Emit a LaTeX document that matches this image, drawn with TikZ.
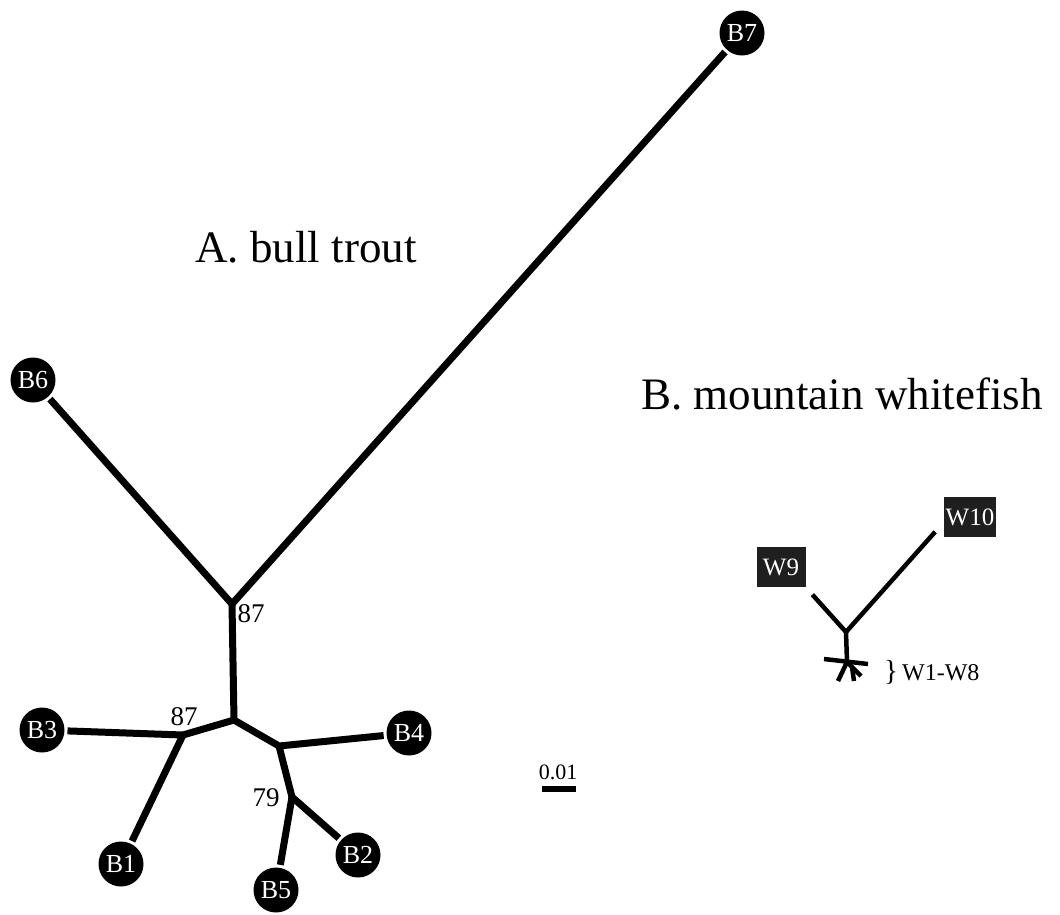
\documentclass[tikz,border=0pt]{standalone}
\usepackage{fontspec}
\setmainfont{Liberation Serif}
\usetikzlibrary{calc}

\begin{document}
\begin{tikzpicture}[x=1pt,y=-1pt,
  leaf/.style={circle,fill=black,text=white,minimum size=45pt,inner sep=0pt,
    outer sep=3pt,font=\fontsize{26}{26}\selectfont},
  wbox/.style={rectangle,fill=black!88,text=white,inner sep=0pt,
    minimum height=40pt,font=\fontsize{25}{25}\selectfont},
  branch/.style={line width=7pt,line cap=butt,line join=round},
  wfbranch/.style={line width=4.5pt,line cap=butt,line join=round},
  support/.style={font=\fontsize{27}{27}\selectfont,inner sep=0pt},
  title/.style={font=\fontsize{45}{45}\selectfont,inner sep=0pt}]

\useasboundingbox (0,0) rectangle (1060,914);

% ---- A. bull trout ----
\node[title,anchor=base] (tA) at (306,262) {A. bull trout};

\node[leaf] (B7) at (742,33)  {B7};
\node[leaf] (B6) at (33,380)  {B6};
\node[leaf] (B3) at (42,730)  {B3};
\node[leaf] (B4) at (409,733) {B4};
\node[leaf] (B1) at (121,864) {B1};
\node[leaf] (B2) at (358,855) {B2};
\node[leaf] (B5) at (276,890) {B5};

\coordinate (n87) at (232,604);
\coordinate (root) at (234,720);
\coordinate (nL) at (183,735);
\coordinate (nR) at (279,746);
\coordinate (n79) at (292,797);

\draw[branch] (B6) -- (n87) -- (B7);
\draw[branch] (n87) -- (root);
\draw[branch] (B3) -- (nL) -- (root) -- (nR) -- (B4);
\draw[branch] (nL) -- (B1);
\draw[branch] (nR) -- (n79) -- (B2);
\draw[branch] (n79) -- (B5);
\foreach \j in {n87,root,nL,nR,n79}
  \fill (\j) circle[radius=3.5pt];

\node[support] (bs1) at (251,614) {87};
\node[support] (bs2) at (184,717) {87};
\node[support] (bs3) at (266,798) {79};

% scale bar
\node[font=\fontsize{22}{22}\selectfont,inner sep=0pt] (scl) at (558,772) {0.01};
\coordinate (sb1) at (542,789);
\coordinate (sb2) at (576,789);
\draw[line width=6pt] (sb1) -- (sb2);

% ---- B. mountain whitefish ----
\node[title,anchor=base] (tB) at (842,409) {B. mountain whitefish};

\node[wbox,minimum width=49pt] (W9)  at (781,567) {W9};
\node[wbox,minimum width=52pt] (W10) at (970,517) {W10};

\coordinate (wj) at (846,632);
\coordinate (ws) at (847,662);
\draw[wfbranch,shorten >=10pt] (wj) -- (W9.south east);
\draw[wfbranch,shorten >=13pt] (wj) -- (W10.191);
\draw[wfbranch] (wj) -- (ws);
\fill (wj) circle[radius=2.25pt];

% collapsed cluster W1-W8
\coordinate (sL) at (824,659);
\coordinate (sR) at (868,664);
\coordinate (sA) at (838,681);
\coordinate (sK) at (852,667);
\coordinate (sB) at (854,681);
\coordinate (sC) at (861,676);
\draw[wfbranch] (sL) -- (sR);
\draw[wfbranch] (ws) -- (sA);
\draw[wfbranch] (ws) -- (sK) -- (sB);
\draw[wfbranch] (sK) -- (sC);

\node[anchor=west,font=\fontsize{24}{24}\selectfont,inner sep=0pt] (wl)
  at (884,672) {{\fontsize{29}{29}\selectfont\}}\,W1-W8};
\end{tikzpicture}
\end{document}
